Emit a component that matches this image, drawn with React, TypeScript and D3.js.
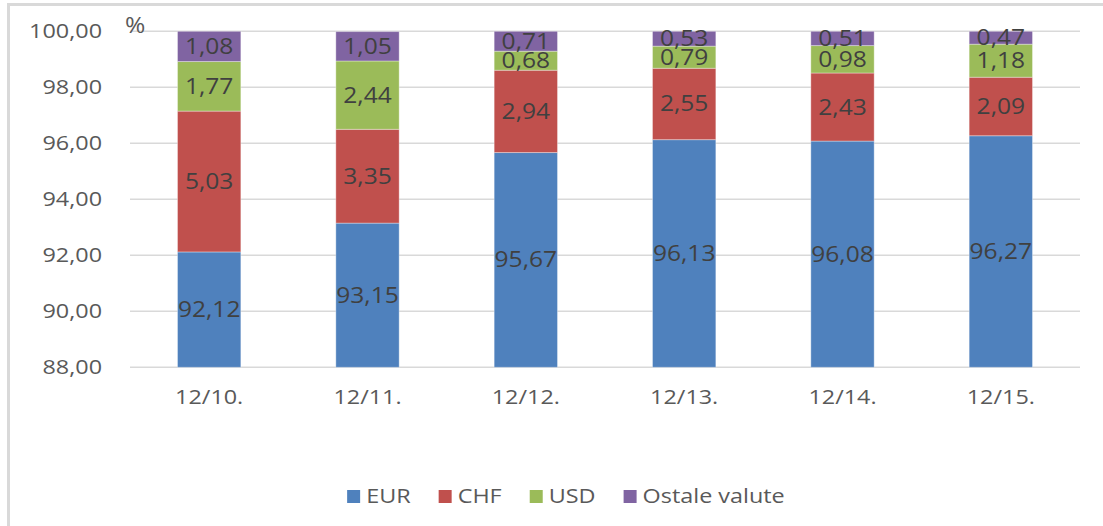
import React, { useRef, useEffect } from "react";
import { select, scaleBand, scaleLinear, stack } from "d3";

const periods = ["12/10.", "12/11.", "12/12.", "12/13.", "12/14.", "12/15."];
const eur = [92.12, 93.15, 95.67, 96.13, 96.08, 96.27];
const chf = [5.03, 3.35, 2.94, 2.55, 2.43, 2.09];
const usd = [1.77, 2.44, 0.68, 0.79, 0.98, 1.18];
const ostale = [1.08, 1.05, 0.71, 0.53, 0.51, 0.47];
const seriesNames = ["EUR", "CHF", "USD", "Ostale valute"];
const seriesColors = ["#4F81BD", "#C0504D", "#9BBB59", "#8064A2"];
const yTicks = [88, 90, 92, 94, 96, 98, 100];

const fmt = (v: number) => v.toFixed(2).replace(".", ",");

export default function App() {
  const svgRef = useRef<SVGSVGElement>(null);

  useEffect(() => {
    const svg = select(svgRef.current);
    svg.selectAll("*").remove();

    const left = 130, right = 1080, top = 31.3, bottom = 367.3;
    const sx = 1.17; // text in the picture is stretched sideways

    const rows = periods.map((p, i) => ({
      period: p,
      EUR: eur[i],
      CHF: chf[i],
      USD: usd[i],
      "Ostale valute": ostale[i],
    }));
    const layers = stack<any>().keys(seriesNames)(rows);

    const x = scaleBand().domain(periods).range([left, right]).paddingInner(0.6).paddingOuter(0.3);
    const y = scaleLinear().domain([88, 100]).range([bottom, top]).clamp(true);

    // frame (top + left only)
    svg.append("line").attr("x1", 7).attr("x2", 1103).attr("y1", 4.5).attr("y2", 4.5)
      .attr("stroke", "#d9d9d9").attr("stroke-width", 3);
    svg.append("line").attr("x1", 8.5).attr("x2", 8.5).attr("y1", 3).attr("y2", 526)
      .attr("stroke", "#d9d9d9").attr("stroke-width", 3);

    const font = "'Open Sans', sans-serif";

    //Grids
    svg.append("g").selectAll("line").data(yTicks).join("line")
      .attr("x1", left).attr("x2", right)
      .attr("y1", (d) => y(d)).attr("y2", (d) => y(d))
      .attr("stroke", "#d9d9d9").attr("stroke-width", 1.5);

    //Y-Achse
    svg.append("g").selectAll("text").data(yTicks).join("text")
      .attr("transform", (d) => `translate(102,${y(d) + 7}) scale(${sx},1)`)
      .attr("text-anchor", "end")
      .attr("font-family", font).attr("font-size", 20).attr("fill", "#595959")
      .text((d) => fmt(d));

    svg.append("text")
      .attr("transform", `translate(125,33) scale(${sx},1)`)
      .attr("font-family", font).attr("font-size", 21).attr("fill", "#595959")
      .text("%");

    // bars
    layers.forEach((layer, li) => {
      const g = svg.append("g");
      g.selectAll("rect").data(layer).join("rect")
        .attr("x", (d: any) => x(d.data.period))
        .attr("width", x.bandwidth())
        .attr("y", (d: any) => y(d[1]))
        .attr("height", (d: any) => y(d[0]) - y(d[1]))
        .attr("fill", seriesColors[li])
        .attr("stroke", "#ffffff").attr("stroke-opacity", 0.35).attr("stroke-width", 1);

      g.selectAll("text").data(layer).join("text")
        .attr("transform", (d: any) => {
          const cx = (x(d.data.period) as number) + x.bandwidth() / 2;
          const cy = (y(d[0]) + y(d[1])) / 2 + 7.5;
          return `translate(${cx},${cy}) scale(${sx},1)`;
        })
        .attr("text-anchor", "middle")
        .attr("font-family", font).attr("font-size", 21).attr("fill", "#404040")
        .text((d: any) => fmt(d.data[seriesNames[li]]));
    });

    //X-Achse
    svg.append("g").selectAll("text").data(periods).join("text")
      .attr("transform", (d) => `translate(${(x(d) as number) + x.bandwidth() / 2},404) scale(${sx},1)`)
      .attr("text-anchor", "middle")
      .attr("font-family", font).attr("font-size", 20).attr("fill", "#595959")
      .text((d) => d);

    // Legend
    const legend = svg.append("g");
    const items = seriesNames.map((name, i) => {
      const item = legend.append("g");
      item.append("rect").attr("width", 13).attr("height", 13).attr("y", -13).attr("fill", seriesColors[i]);
      const t = item.append("text")
        .attr("font-family", font).attr("font-size", 20).attr("fill", "#595959")
        .text(name);
      const w = (t.node() as SVGTextElement).getComputedTextLength() * sx;
      return { item, t, w };
    });
    const gapIcon = 6, gapItem = 28;
    const total = items.reduce((s, it) => s + 13 + gapIcon + it.w, 0) + gapItem * (items.length - 1);
    let cur = 566 - total / 2;
    items.forEach((it) => {
      it.item.attr("transform", `translate(${cur},503)`);
      it.t.attr("transform", `translate(${13 + gapIcon},0) scale(${sx},1)`);
      cur += 13 + gapIcon + it.w + gapItem;
    });
  }, []);

  return (
    <svg
      ref={svgRef}
      width={1103}
      height={526}
      style={{ position: "absolute", left: 0, top: 0, background: "#ffffff" }}
    />
  );
}
